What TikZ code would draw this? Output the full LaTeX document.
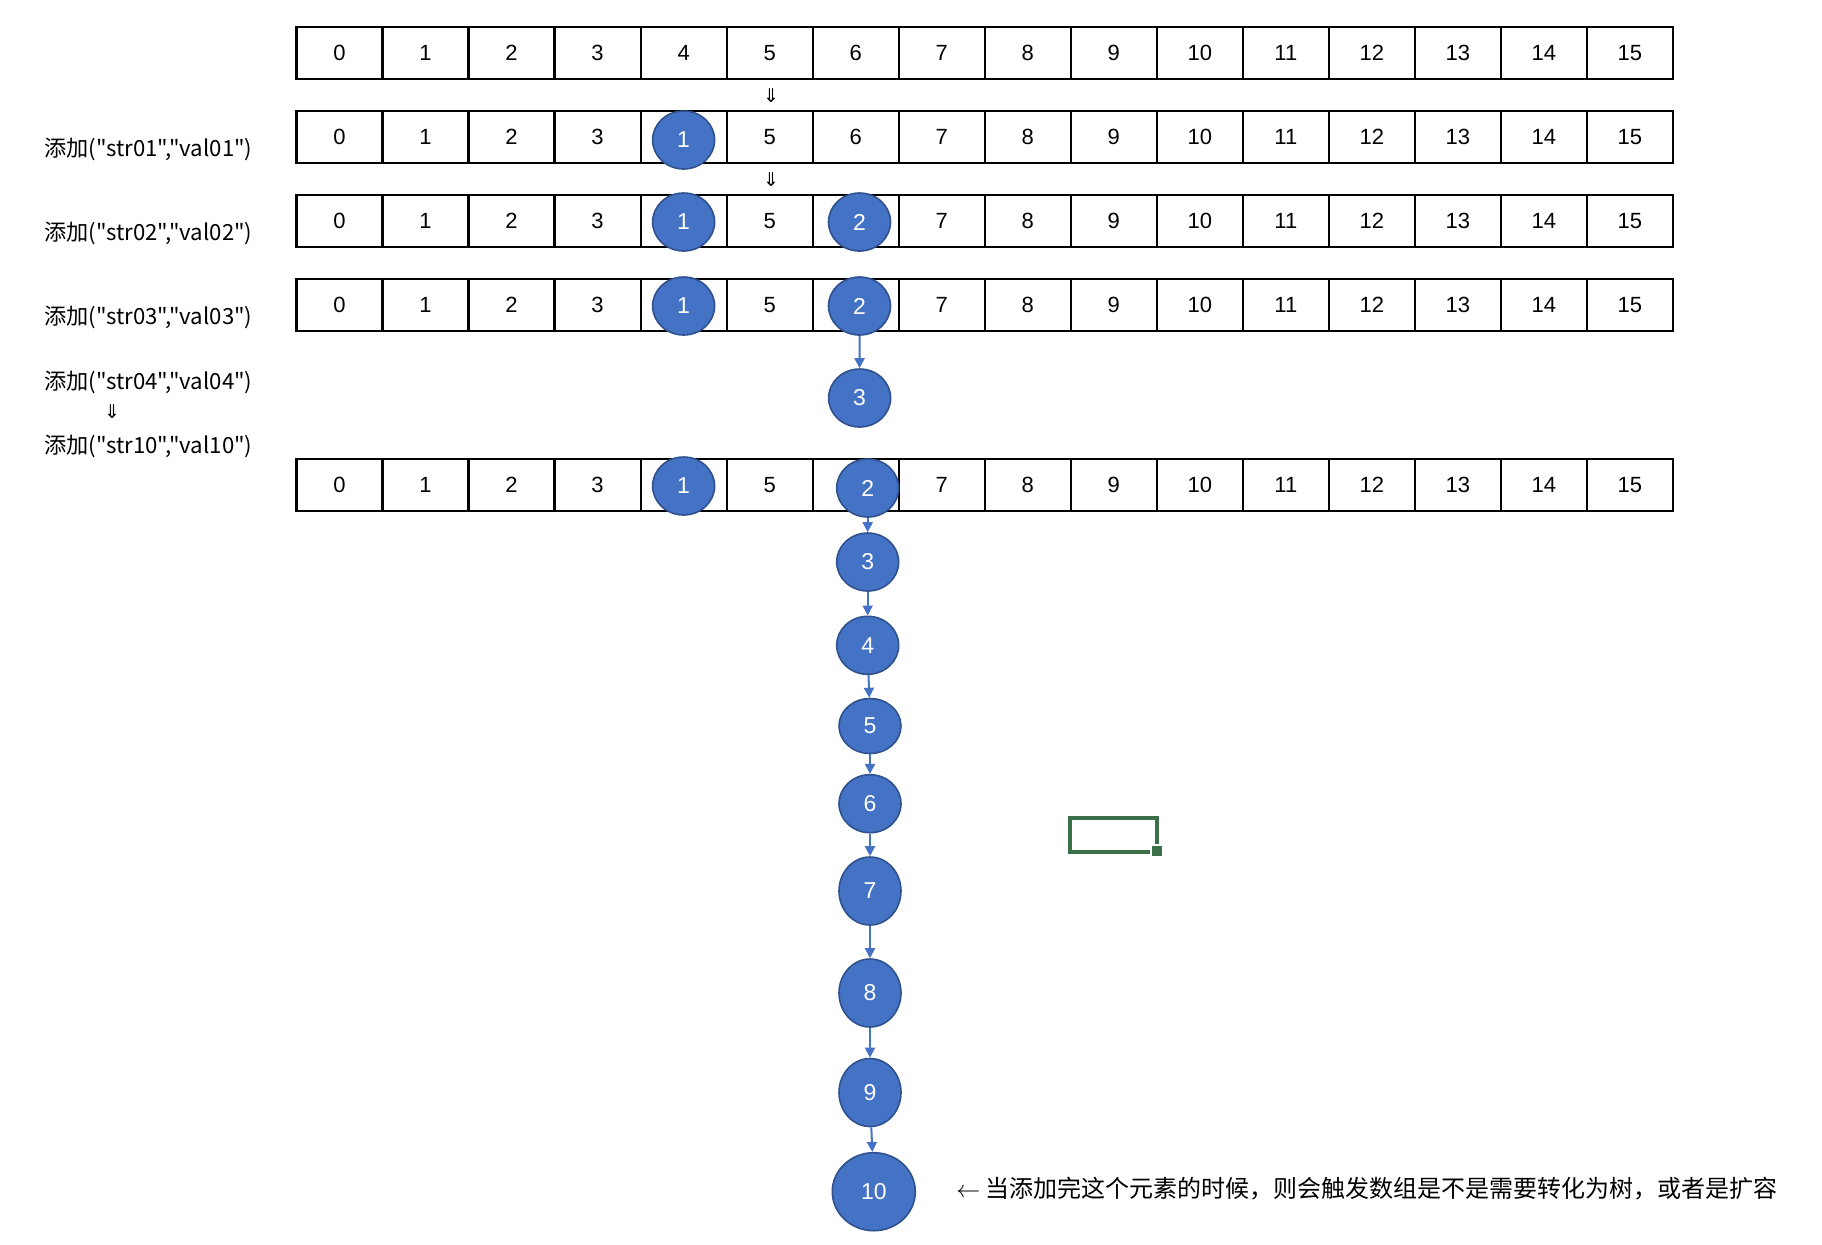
\documentclass[tikz,border=0pt]{standalone}
\usepackage{fontspec}
\setmainfont{Liberation Sans}
\newfontfamily\cjk{Noto Sans CJK SC}
\newfontfamily\symfont{DejaVu Sans}
\usetikzlibrary{shapes.geometric,arrows.meta}
\definecolor{keyfill}{HTML}{4472C4}
\definecolor{keyline}{HTML}{2F528F}
\definecolor{selgreen}{RGB}{58,112,72}
\begin{document}
\begin{tikzpicture}[x=0.5pt,y=-0.5pt,
    cell/.style={draw,line width=1.1pt,minimum width=43pt,minimum height=26pt,inner sep=0pt,font=\fontsize{11}{13}\selectfont},
    key/.style={ellipse,draw=keyline,fill=keyfill,line width=0.8pt,inner sep=0pt,minimum width=31pt,minimum height=29pt,text=white,font=\fontsize{11.5}{13}\selectfont},
    link/.style={draw=keyfill,line width=1pt,-{Triangle[width=5pt,length=5pt]}},
    op/.style={anchor=west,inner sep=0pt,font=\cjk\fontsize{11.1}{14}\selectfont},
    down/.style={inner sep=0pt,font=\symfont\fontsize{9.5}{11}\selectfont}]
  \useasboundingbox (0,0) rectangle (1822,1244);
  % the five arrays
  \foreach \r/\y in {1/53,2/137,3/221,4/305,5/485}
    \foreach \i in {0,...,15} {
      \pgfmathtruncatemacro\hide{(\r>1)*(\i==4)+(\r>2)*(\i==6)}
      \node[cell] (r\r-\i) at ({296.5+(\i+0.5)*86.03},\y) {\ifnum\hide=0 \i\fi};
    }
  \node[down] (d1) at (771,96) {⇓};
  \node[down] (d2) at (771,180) {⇓};
  % the keys
  \node[key] (r2k1) at (683.6,140) {1};
  \node[key] (r3k1) at (683.6,222) {1};
  \node[key] (r3k2) at (859.5,222) {2};
  \node[key] (r4k1) at (683.6,306) {1};
  \node[key] (r4k2) at (859.5,306) {2};
  \node[key] (r4k3) at (859.6,398) {3};
  \draw [link] (r4k2) -- (r4k3);
  \node[key] (r5k1) at (683.6,486) {1};
  \node[key] (r5k2) at (867.7,488) {2};
  \foreach \k/\x/\y/\h in {3/867.7/562/29,4/867.7/645.3/29,5/870/726/27.5,6/870/803.7/29,7/870/891/34,8/870/993/34,9/870/1092.5/34}
    \node[key,minimum height=\h pt] (r5k\k) at (\x,\y) {\k};
  \node[key,minimum width=41.5pt,minimum height=39pt] (r5k10) at (873.8,1191.7) {10};
  \foreach \a/\b in {2/3,3/4,4/5,5/6,6/7,7/8,8/9,9/10}
    \draw [link] (r5k\a) -- (r5k\b);
  % the calls
  \node[op] (add1) at (44,149) {添加("str01","val01")};
  \node[op] (add2) at (44,233) {添加("str02","val02")};
  \node[op] (add3) at (44,317) {添加("str03","val03")};
  \node[op] (add4) at (44,382) {添加("str04","val04")};
  \node[down] (skip) at (112,412) {⇓};
  \node[op] (add10) at (44,446) {添加("str10","val10")};
  \node[op,font=\cjk\fontsize{12}{14}\selectfont] (note) at (956,1189) {$\leftarrow$\ 当添加完这个元素的时候，则会触发数组是不是需要转化为树，或者是扩容};
  % selected cell
  \draw [selgreen,line width=2pt] (1157,843.7) -- (1157,817.7) -- (1070,817.7) -- (1070,851.7) -- (1150,851.7);
  \fill [selgreen] (1152,845.7) rectangle (1162,855.7);
\end{tikzpicture}
\end{document}
